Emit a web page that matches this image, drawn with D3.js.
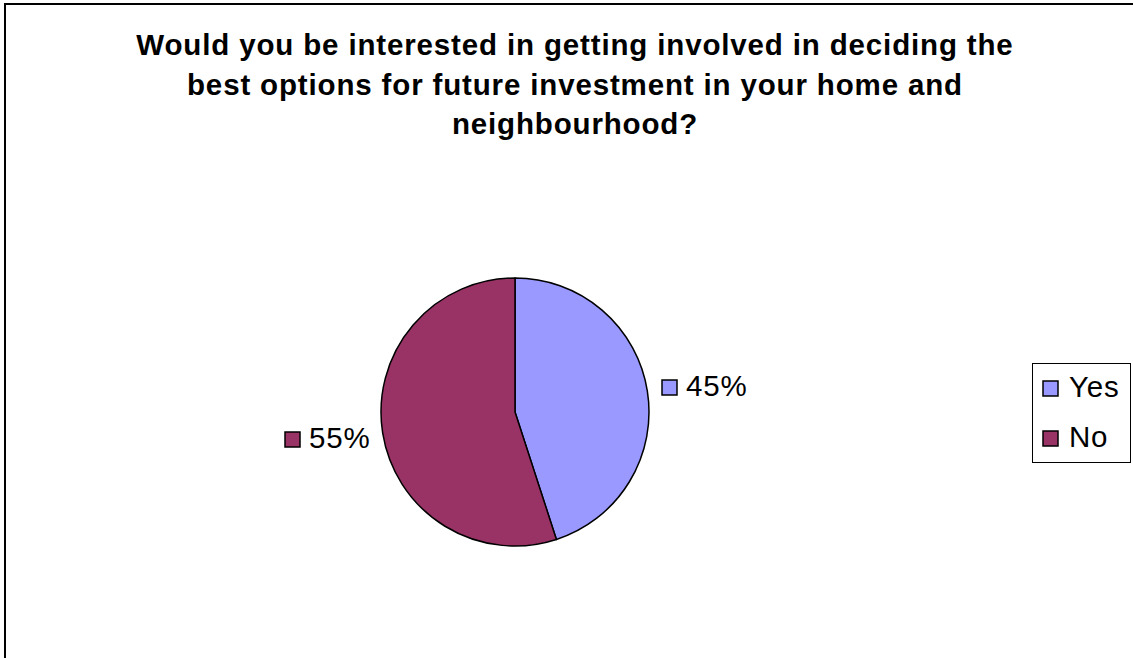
<!DOCTYPE html>
<html>
<head>
    <script src="https://cdn.jsdelivr.net/npm/d3@7/dist/d3.min.js"></script>
    <style>
        body { margin: 0; background: #fff; }
        text { font-family: Arial, "Liberation Sans", sans-serif; }
    </style>
</head>
<body>
<div id="chart"></div>
<script>
    var categories = ['Yes', 'No'];
    var values = [45, 55];
    var colors = ['#9999FF', '#993366'];
    var titleLines = [
        'Would you be interested in getting involved in deciding the',
        'best options for future investment in your home and',
        'neighbourhood?'
    ];

    var width = 1133, height = 658;
    var cx = 515, cy = 412, radius = 134;

    var svg = d3.select('#chart').append('svg')
        .attr('width', width)
        .attr('height', height);

    // outer chart border (right/bottom run off the picture)
    svg.append('rect')
        .attr('x', 5).attr('y', 4)
        .attr('width', width + 10).attr('height', height + 10)
        .attr('fill', 'none')
        .attr('stroke', '#000')
        .attr('stroke-width', 2);

    svg.append('text')
        .attr('text-anchor', 'middle')
        .attr('font-weight', 'bold')
        .attr('font-size', 29.5)
        .attr('letter-spacing', 0.85)
        .selectAll('tspan')
        .data(titleLines)
        .enter()
        .append('tspan')
        .attr('x', 575)
        .attr('y', function(d, i) { return 55 + i * 39.5; })
        .text(function(d) { return d; });

    var pie = d3.pie().sort(null).value(function(d) { return d; });
    var arc = d3.arc().innerRadius(0).outerRadius(radius);
    var arcs = pie(values);

    var g = svg.append('g')
        .attr('transform', 'translate(' + cx + ',' + cy + ')');

    g.selectAll('path.slice')
        .data(arcs)
        .enter()
        .append('path')
        .attr('class', 'slice')
        .attr('d', arc)
        .attr('fill', function(d, i) { return colors[i]; })
        .attr('stroke', '#000')
        .attr('stroke-width', 1.5)
        .attr('stroke-linejoin', 'round');

    // data labels: swatch + percent
    var labelPos = [
        { x: 662, y: 396 },
        { x: 285, y: 448 }
    ];
    var labels = svg.selectAll('g.dlabel')
        .data(arcs)
        .enter()
        .append('g')
        .attr('class', 'dlabel')
        .attr('transform', function(d, i) { return 'translate(' + labelPos[i].x + ',' + labelPos[i].y + ')'; });

    labels.append('rect')
        .attr('x', 0).attr('y', -16)
        .attr('width', 15).attr('height', 15)
        .attr('fill', function(d, i) { return colors[i]; })
        .attr('stroke', '#000')
        .attr('stroke-width', 1.5);

    labels.append('text')
        .attr('x', 24)
        .attr('y', 0)
        .attr('font-size', 29.5)
        .attr('letter-spacing', 0.8)
        .text(function(d) { return Math.round(d.value) + '%'; });

    // legend
    var legend = svg.append('g')
        .attr('transform', 'translate(1032,363)');

    legend.append('rect')
        .attr('x', 0.5).attr('y', 0.5)
        .attr('width', 98).attr('height', 99)
        .attr('fill', '#fff')
        .attr('stroke', '#000')
        .attr('stroke-width', 1);

    var items = legend.selectAll('g.item')
        .data(categories)
        .enter()
        .append('g')
        .attr('class', 'item')
        .attr('transform', function(d, i) { return 'translate(11,' + (34 + i * 50) + ')'; });

    items.append('rect')
        .attr('x', 0).attr('y', -16)
        .attr('width', 15).attr('height', 15)
        .attr('fill', function(d, i) { return colors[i]; })
        .attr('stroke', '#000')
        .attr('stroke-width', 1.5);

    items.append('text')
        .attr('x', 26)
        .attr('y', 0)
        .attr('font-size', 29.5)
        .attr('letter-spacing', 0.8)
        .text(function(d) { return d; });
</script>
</body>
</html>
